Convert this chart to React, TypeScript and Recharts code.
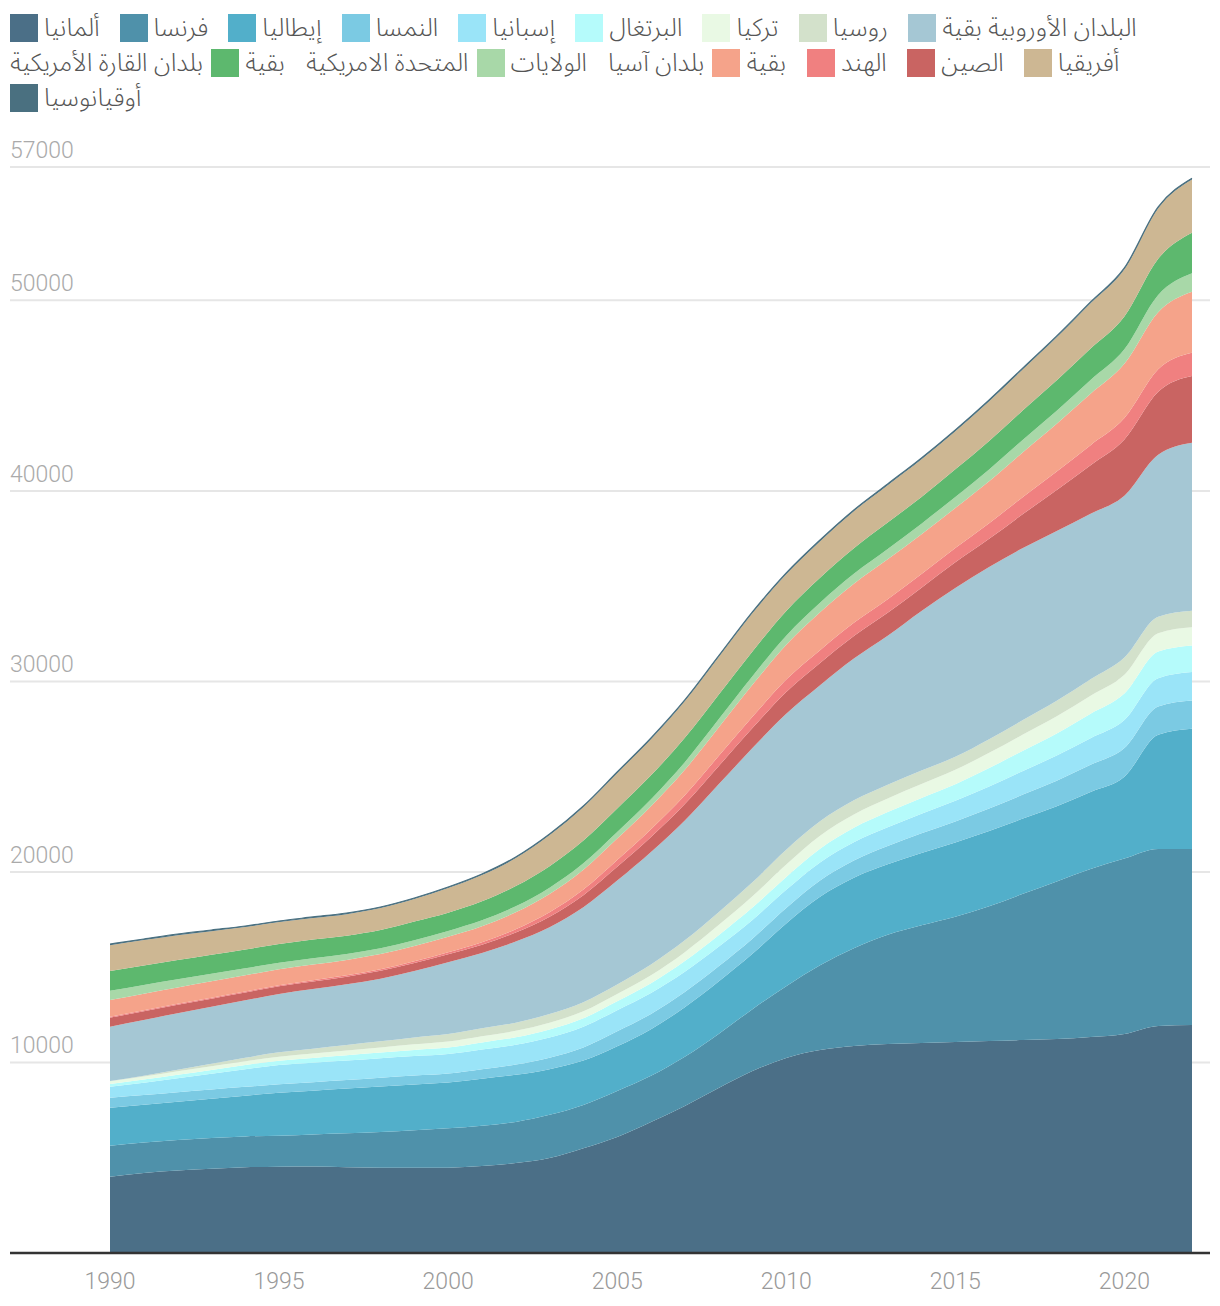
import { AreaChart, Area, XAxis, YAxis, CartesianGrid } from "recharts";

// years on the x axis
const years = [
  1990, 1991, 1992, 1993, 1994, 1995, 1996, 1997, 1998, 1999, 2000, 2001, 2002, 2003, 2004, 2005, 2006,
  2007, 2008, 2009, 2010, 2011, 2012, 2013, 2014, 2015, 2016, 2017, 2018, 2019, 2020, 2021, 2022,
];

const germany = [4005, 4200, 4330, 4420, 4500, 4530, 4540, 4500, 4480, 4470, 4480, 4560, 4720, 4990, 5500, 6090, 6880, 7720, 8660, 9550, 10240, 10650, 10870, 10970, 11020, 11080, 11130, 11180, 11230, 11340, 11500, 11920, 11970];
const france = [1627, 1600, 1600, 1610, 1620, 1627, 1680, 1780, 1870, 1970, 2065, 2120, 2160, 2260, 2270, 2410, 2420, 2580, 2840, 3250, 3760, 4450, 5130, 5730, 6180, 6570, 7070, 7670, 8270, 8810, 9200, 9280, 9240];
const italy = [1996, 1980, 2010, 2070, 2140, 2257, 2300, 2350, 2390, 2410, 2405, 2470, 2470, 2400, 2330, 2350, 2450, 2600, 2750, 2900, 3300, 3600, 3700, 3700, 3800, 3900, 3950, 3950, 3950, 4050, 4300, 6000, 6300];
const austria = [524, 510, 495, 480, 460, 441, 445, 450, 458, 465, 472, 500, 540, 600, 690, 786, 800, 800, 800, 800, 810, 850, 900, 960, 1030, 1100, 1180, 1260, 1340, 1420, 1500, 1490, 1490];
const spain = [577, 650, 740, 830, 930, 1013, 1020, 1020, 1020, 1020, 1018, 1030, 1040, 1060, 1090, 1110, 1100, 1060, 1020, 980, 950, 950, 960, 980, 1020, 1086, 1160, 1240, 1320, 1400, 1470, 1480, 1490];
const portugal = [140, 160, 180, 200, 215, 226, 250, 275, 300, 325, 347, 370, 390, 420, 440, 467, 510, 560, 610, 650, 680, 720, 760, 800, 830, 866, 960, 1060, 1160, 1280, 1390, 1400, 1400];
const turkey = [140, 160, 180, 195, 205, 210, 230, 250, 270, 295, 315, 330, 340, 355, 365, 377, 420, 470, 530, 590, 650, 680, 700, 720, 740, 761, 800, 850, 900, 950, 990, 960, 950];
const russia = [20, 40, 80, 130, 180, 231, 260, 290, 320, 355, 388, 410, 430, 455, 480, 505, 560, 620, 680, 740, 780, 760, 740, 720, 700, 680, 720, 760, 810, 860, 900, 870, 866];
const restEurope = [2850, 2930, 2965, 2985, 3010, 3060, 3125, 3185, 3292, 3490, 3769, 3960, 4260, 4560, 4985, 5455, 5910, 6290, 6710, 7040, 7130, 7140, 7440, 7820, 8380, 8857, 9030, 9030, 8920, 8690, 8500, 8500, 8819];
const china = [472, 460, 445, 430, 415, 404, 400, 405, 410, 415, 420, 430, 470, 550, 630, 720, 780, 860, 950, 1050, 1150, 1170, 1185, 1199, 1217, 1350, 1484, 1784, 2143, 2550, 2950, 3300, 3501];
const india = [50, 50, 51, 52, 52, 53, 60, 70, 80, 92, 105, 130, 175, 235, 295, 360, 415, 470, 530, 590, 650, 671, 690, 710, 720, 750, 820, 900, 980, 1050, 1120, 1180, 1223];
const restAsia = [876, 870, 862, 855, 848, 840, 832, 810, 800, 810, 819, 845, 890, 960, 1040, 1120, 1200, 1330, 1500, 1680, 1820, 1990, 2050, 2100, 2090, 2100, 2200, 2350, 2500, 2700, 2850, 3000, 3202];
const usa = [488, 460, 430, 400, 370, 346, 330, 311, 305, 300, 299, 305, 315, 330, 340, 350, 375, 400, 430, 455, 480, 500, 520, 540, 555, 580, 620, 650, 690, 720, 760, 900, 966];
const restAmericas = [1034, 1020, 1010, 1000, 990, 981, 980, 960, 955, 980, 960, 1000, 1060, 1130, 1190, 1230, 1250, 1280, 1290, 1300, 1300, 1310, 1350, 1390, 1400, 1450, 1500, 1550, 1600, 1650, 1720, 1900, 2131];
const africa = [1360, 1332, 1306, 1237, 1169, 1148, 1125, 1130, 1152, 1177, 1289, 1374, 1466, 1628, 1758, 1858, 1902, 1927, 1977, 2010, 1930, 1920, 1940, 1960, 1980, 2000, 2080, 2150, 2250, 2378, 2483, 2655, 2790];
const oceania = [60, 60, 60, 60, 60, 60, 60, 60, 60, 60, 60, 60, 60, 60, 60, 60, 60, 60, 60, 61, 63, 64, 65, 66, 68, 70, 70, 70, 70, 70, 70, 70, 71];

const xTicks = [1990, 1995, 2000, 2005, 2010, 2015, 2020];
const yTicks = [10000, 20000, 30000, 40000, 50000, 57000];

// stacking order, bottom to top
const series = [
  { key: "germany", name: "ألمانيا", color: "#4b6f87", values: germany },
  { key: "france", name: "فرنسا", color: "#4f91aa", values: france },
  { key: "italy", name: "إيطاليا", color: "#52afca", values: italy },
  { key: "austria", name: "النمسا", color: "#7bcae3", values: austria },
  { key: "spain", name: "إسبانيا", color: "#9ae4f8", values: spain },
  { key: "portugal", name: "البرتغال", color: "#b5fbfb", values: portugal },
  { key: "turkey", name: "تركيا", color: "#e9f9e4", values: turkey },
  { key: "russia", name: "روسيا", color: "#d3e1cb", values: russia },
  { key: "restEurope", name: "البلدان الأوروبية بقية", color: "#a5c7d4", values: restEurope },
  { key: "china", name: "الصين", color: "#c96462", values: china },
  { key: "india", name: "الهند", color: "#f08080", values: india },
  { key: "restAsia", name: "بقية بلدان آسيا", color: "#f5a38a", values: restAsia },
  { key: "usa", name: "الولايات المتحدة الامريكية", color: "#a8d8a8", values: usa },
  { key: "restAmericas", name: "بقية بلدان القارة الأمريكية", color: "#5db86e", values: restAmericas },
  { key: "africa", name: "أفريقيا", color: "#cdb793", values: africa },
  { key: "oceania", name: "أوقيانوسيا", color: "#4a7080", values: oceania },
];

// legend rows as they appear in the picture
const legendRows = [
  ["germany", "france", "italy", "austria", "spain", "portugal", "turkey", "russia", "restEurope"],
  ["restAmericas", "usa", "restAsia", "india", "china", "africa"],
  ["oceania"],
];
// these labels show their first word after the swatch and the rest before it
const splitLabels = ["restAmericas", "usa", "restAsia"];

const rows = years.map((year, i) => {
  const row: Record<string, number> = { year };
  series.forEach((s) => {
    row[s.key] = s.values[i];
  });
  return row;
});

const textFont = "Roboto, 'Noto Sans Arabic', 'DejaVu Sans', sans-serif";

const Swatch = ({ color, left = 0 }: { color: string; left?: number }) => (
  <span
    style={{ display: "inline-block", flex: "none", width: 28, height: 28, background: color, marginLeft: left, marginRight: 6 }}
  />
);

const LegendItem = ({ k }: { k: string }) => {
  const s = series.find((d) => d.key === k)!;
  if (splitLabels.includes(k)) {
    const words = s.name.split(" ");
    return (
      <div style={{ display: "flex", alignItems: "center", marginRight: 21 }}>
        <span>{words.slice(1).join(" ")}</span>
        <Swatch color={s.color} left={8} />
        <span>{words[0]}</span>
      </div>
    );
  }
  return (
    <div style={{ display: "flex", alignItems: "center", marginRight: 20 }}>
      <Swatch color={s.color} />
      <span>{s.name}</span>
    </div>
  );
};

const YTick = (props: any) => (
  <text x={10} y={props.y - 9} textAnchor="start" fill="#aaa" fontSize={23} fontWeight={300} fontFamily={textFont}>
    {props.payload.value}
  </text>
);

const XTick = (props: any) => (
  <text x={props.x} y={1289} textAnchor="middle" fill="#999" fontSize={23} fontWeight={300} fontFamily={textFont}>
    {props.payload.value}
  </text>
);

export default function App() {
  return (
    <div style={{ position: "absolute", left: 0, top: 0, width: 1220, height: 1306, background: "#fff" }}>
      <AreaChart width={1220} height={1306} data={rows} margin={{ top: 167, right: 10, bottom: 0, left: 9 }}>
        <CartesianGrid vertical={false} stroke="#e6e6e6" strokeWidth={2} />
        <XAxis
          dataKey="year"
          type="number"
          domain={[1990, 2022]}
          ticks={xTicks}
          padding={{ left: 100, right: 18 }}
          height={53}
          tickLine={false}
          axisLine={{ stroke: "#333", strokeWidth: 2.5 }}
          tick={XTick}
        />
        <YAxis
          type="number"
          domain={[0, 57000]}
          ticks={yTicks}
          interval={0}
          width={1}
          axisLine={false}
          tickLine={false}
          tick={YTick}
        />
        {series.map((s) => (
          <Area
            key={s.key}
            dataKey={s.key}
            name={s.name}
            stackId="1"
            type="monotone"
            fill={s.color}
            fillOpacity={1}
            stroke={s.key === "oceania" ? s.color : "none"}
            strokeWidth={1.2}
            isAnimationActive={false}
          />
        ))}
      </AreaChart>
      <div
        style={{
          position: "absolute",
          left: 10,
          top: 14,
          width: 1210,
          fontFamily: textFont,
          fontWeight: 300,
          fontSize: 25,
          color: "#555",
        }}
      >
        {legendRows.map((r, i) => (
          <div key={i} style={{ display: "flex", height: 28, marginBottom: 7, whiteSpace: "nowrap" }}>
            {r.map((k) => (
              <LegendItem key={k} k={k} />
            ))}
          </div>
        ))}
      </div>
    </div>
  );
}
